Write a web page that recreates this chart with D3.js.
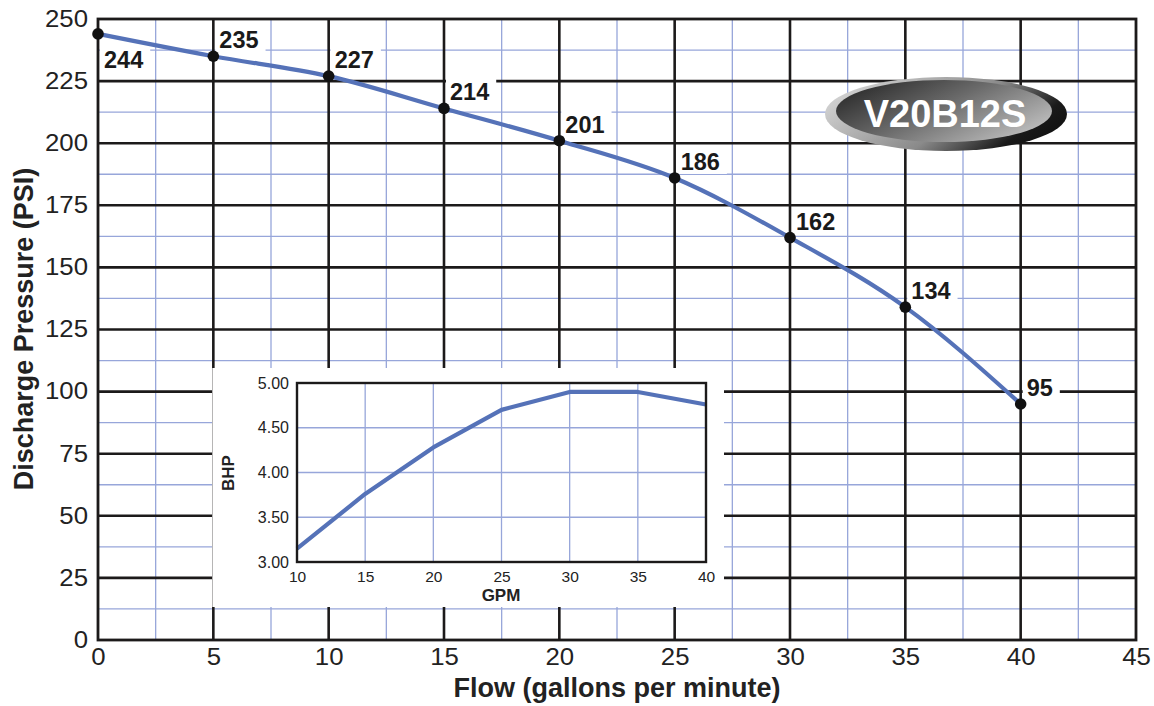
<!DOCTYPE html>
<html>
<head>
<meta charset="utf-8">
<script src="https://cdn.jsdelivr.net/npm/d3@7"></script>
<style>
  html, body { margin: 0; padding: 0; background: #fff; }
  svg { display: block; font-family: "Liberation Sans", Arial, Helvetica, sans-serif; }
</style>
</head>
<body>
<svg id="chart" width="1154" height="706"></svg>
<script>
// ---- data ----
const flowGPM = [0, 5, 10, 15, 20, 25, 30, 35, 40];
const pressurePSI = [244, 235, 227, 214, 201, 186, 162, 134, 95];
const xTicks = [0, 5, 10, 15, 20, 25, 30, 35, 40, 45];
const yTicks = [0, 25, 50, 75, 100, 125, 150, 175, 200, 225, 250];

const bhpGPM = [10, 15, 20, 25, 30, 35, 40];
const bhpValues = [3.15, 3.76, 4.28, 4.70, 4.90, 4.90, 4.76];
const bhpXTicks = [10, 15, 20, 25, 30, 35, 40];
const bhpYTicks = [3.00, 3.50, 4.00, 4.50, 5.00];

const modelName = "V20B12S";
const xTitle = "Flow (gallons per minute)";
const yTitle = "Discharge Pressure (PSI)";
const insetXTitle = "GPM";
const insetYTitle = "BHP";

// ---- setup ----
const svg = d3.select("#chart");
const BLUE = "#5572b8";
const GRIDBLUE = "#97a6da";
const BLACK = "#1c1a1a";

const L = 98, R = 1136, T = 19, B = 640;
const x = d3.scaleLinear().domain([0, 45]).range([L, R]);
const y = d3.scaleLinear().domain([0, 250]).range([B, T]);

function stretch(sel, k) {
  sel.each(function () {
    const len = this.getComputedTextLength();
    d3.select(this).attr("textLength", len * k).attr("lengthAdjust", "spacingAndGlyphs");
  });
}

const defs = svg.append("defs");

// minor grid (blue)
const minorX = d3.range(2.5, 45, 5);
const minorY = d3.range(12.5, 250, 25);
const g = svg.append("g");
g.selectAll(".mx").data(minorX).join("line")
  .attr("x1", d => x(d)).attr("x2", d => x(d)).attr("y1", T).attr("y2", B)
  .attr("stroke", GRIDBLUE).attr("stroke-width", 1.3);
g.selectAll(".my").data(minorY).join("line")
  .attr("y1", d => y(d)).attr("y2", d => y(d)).attr("x1", L).attr("x2", R)
  .attr("stroke", GRIDBLUE).attr("stroke-width", 1.3);
// major grid (black)
g.selectAll(".Mx").data(xTicks.filter(d => d > 0 && d < 45)).join("line")
  .attr("x1", d => x(d)).attr("x2", d => x(d)).attr("y1", T).attr("y2", B)
  .attr("stroke", BLACK).attr("stroke-width", 2.6);
g.selectAll(".My").data(yTicks.filter(d => d > 0 && d < 250)).join("line")
  .attr("y1", d => y(d)).attr("y2", d => y(d)).attr("x1", L).attr("x2", R)
  .attr("stroke", BLACK).attr("stroke-width", 2.6);

// axes tick labels
const ax = svg.append("g").attr("transform", `translate(0,${B})`)
  .call(d3.axisBottom(x).tickValues(xTicks).tickSize(0).tickPadding(9).tickFormat(d3.format("d")));
ax.select(".domain").remove();
ax.selectAll("text").attr("font-size", 23).attr("fill", "#222")
  .attr("font-family", "'Liberation Sans', Arial, sans-serif");
stretch(ax.selectAll("text"), 1.12);

const ay = svg.append("g").attr("transform", `translate(${L},0)`)
  .call(d3.axisLeft(y).tickValues(yTicks).tickSize(0).tickPadding(10).tickFormat(d3.format("d")));
ay.select(".domain").remove();
ay.selectAll("text").attr("font-size", 23).attr("fill", "#222")
  .attr("font-family", "'Liberation Sans', Arial, sans-serif");
stretch(ay.selectAll("text"), 1.12);

// axis titles
svg.append("text").attr("x", 617).attr("y", 697).attr("text-anchor", "middle")
  .attr("font-size", 27).attr("font-weight", "bold").attr("fill", "#222").text(xTitle);
svg.append("text").attr("transform", "translate(33,329) rotate(-90)").attr("text-anchor", "middle")
  .attr("font-size", 27).attr("font-weight", "bold").attr("fill", "#222").text(yTitle);

// ---- inset ----
svg.append("rect").attr("x", x(5) - 1).attr("y", 368).attr("width", 724 - x(5) + 1).attr("height", 607 - 368)
  .attr("fill", "#fff");

const iL = 297, iR = 706, iT = 383, iB = 562;
const ix = d3.scaleLinear().domain([10, 40]).range([iL, iR]);
const iy = d3.scaleLinear().domain([3, 5]).range([iB, iT]);
const ig = svg.append("g");
ig.selectAll(".ix").data(bhpXTicks.slice(1, -1)).join("line")
  .attr("x1", d => ix(d)).attr("x2", d => ix(d)).attr("y1", iT).attr("y2", iB)
  .attr("stroke", GRIDBLUE).attr("stroke-width", 1.3);
ig.selectAll(".iy").data(bhpYTicks.slice(1, -1)).join("line")
  .attr("y1", d => iy(d)).attr("y2", d => iy(d)).attr("x1", iL).attr("x2", iR)
  .attr("stroke", GRIDBLUE).attr("stroke-width", 1.3);

const iax = svg.append("g").attr("transform", `translate(0,${iB})`)
  .call(d3.axisBottom(ix).tickValues(bhpXTicks).tickSize(0).tickPadding(9).tickFormat(d3.format("d")));
iax.select(".domain").remove();
iax.selectAll("text").attr("font-size", 15.5).attr("fill", "#222")
  .attr("font-family", "'Liberation Sans', Arial, sans-serif");
const iay = svg.append("g").attr("transform", `translate(${iL},0)`)
  .call(d3.axisLeft(iy).tickValues(bhpYTicks).tickSize(0).tickPadding(8).tickFormat(d3.format(".2f")));
iay.select(".domain").remove();
iay.selectAll("text").attr("font-size", 16).attr("fill", "#222")
  .attr("font-family", "'Liberation Sans', Arial, sans-serif");

svg.append("text").attr("x", 501).attr("y", 601).attr("text-anchor", "middle")
  .attr("font-size", 17).attr("font-weight", "bold").attr("fill", "#222").text(insetXTitle);
svg.append("text").attr("transform", "translate(234,473) rotate(-90)").attr("text-anchor", "middle")
  .attr("font-size", 17).attr("font-weight", "bold").attr("fill", "#222").text(insetYTitle);

const bhpPts = bhpGPM.map((d, i) => [d, bhpValues[i]]);
svg.append("path").datum(bhpPts)
  .attr("d", d3.line().x(d => ix(d[0])).y(d => iy(d[1])))
  .attr("fill", "none").attr("stroke", BLUE).attr("stroke-width", 4.2).attr("stroke-linejoin", "round");
svg.append("rect").attr("x", iL).attr("y", iT).attr("width", iR - iL).attr("height", iB - iT)
  .attr("fill", "none").attr("stroke", BLACK).attr("stroke-width", 2.4);

// main border
svg.append("rect").attr("x", L).attr("y", T).attr("width", R - L).attr("height", B - T)
  .attr("fill", "none").attr("stroke", BLACK).attr("stroke-width", 2.8);

// ---- data labels with white boxes ----
const pts = flowGPM.map((d, i) => [d, pressurePSI[i]]);
const lab = svg.append("g");
pts.forEach((p, i) => {
  const px = x(p[0]), py = y(p[1]);
  const tx = px + 6;
  const ty = i === 0 ? py + 34 : py - 8;
  const t = lab.append("text").attr("x", tx).attr("y", ty)
    .attr("font-size", 23.5).attr("font-weight", "bold").attr("fill", "#1a1a1a").text(p[1]);
  const w = t.node().getComputedTextLength();
  lab.insert("rect", "text").attr("x", tx - 4).attr("y", ty - 22).attr("width", w + 11).attr("height", 26)
    .attr("fill", "#fff");
});

// ---- main curve ----
svg.append("path").datum(pts)
  .attr("d", d3.line().x(d => x(d[0])).y(d => y(d[1])).curve(d3.curveMonotoneX))
  .attr("fill", "none").attr("stroke", BLUE).attr("stroke-width", 4.2);
svg.selectAll(".dot").data(pts).join("circle")
  .attr("cx", d => x(d[0])).attr("cy", d => y(d[1])).attr("r", 5.8).attr("fill", "#111");

// ---- logo ----
const g1 = defs.append("linearGradient").attr("id", "outerG").attr("x1", "0").attr("y1", "0.3").attr("x2", "1").attr("y2", "0.7");
g1.append("stop").attr("offset", "0").attr("stop-color", "#d4d4d4");
g1.append("stop").attr("offset", "0.55").attr("stop-color", "#8a8a8a");
g1.append("stop").attr("offset", "0.85").attr("stop-color", "#1a1a1a");
g1.append("stop").attr("offset", "1").attr("stop-color", "#111");
const g2 = defs.append("linearGradient").attr("id", "innerG").attr("x1", "0").attr("y1", "0.2").attr("x2", "1").attr("y2", "0.8");
g2.append("stop").attr("offset", "0").attr("stop-color", "#2a2a2a");
g2.append("stop").attr("offset", "0.45").attr("stop-color", "#6a6a6a");
g2.append("stop").attr("offset", "1").attr("stop-color", "#c4c4c4");

const logo = svg.append("g");
logo.append("ellipse").attr("cx", 946).attr("cy", 114).attr("rx", 121).attr("ry", 37).attr("fill", "url(#outerG)");
logo.append("ellipse").attr("cx", 944).attr("cy", 111).attr("rx", 108).attr("ry", 31).attr("fill", "url(#innerG)");
logo.append("text").attr("x", 945).attr("y", 127).attr("text-anchor", "middle")
  .attr("font-size", 38).attr("font-weight", "bold").attr("fill", "#fff").text(modelName);
</script>
</body>
</html>
